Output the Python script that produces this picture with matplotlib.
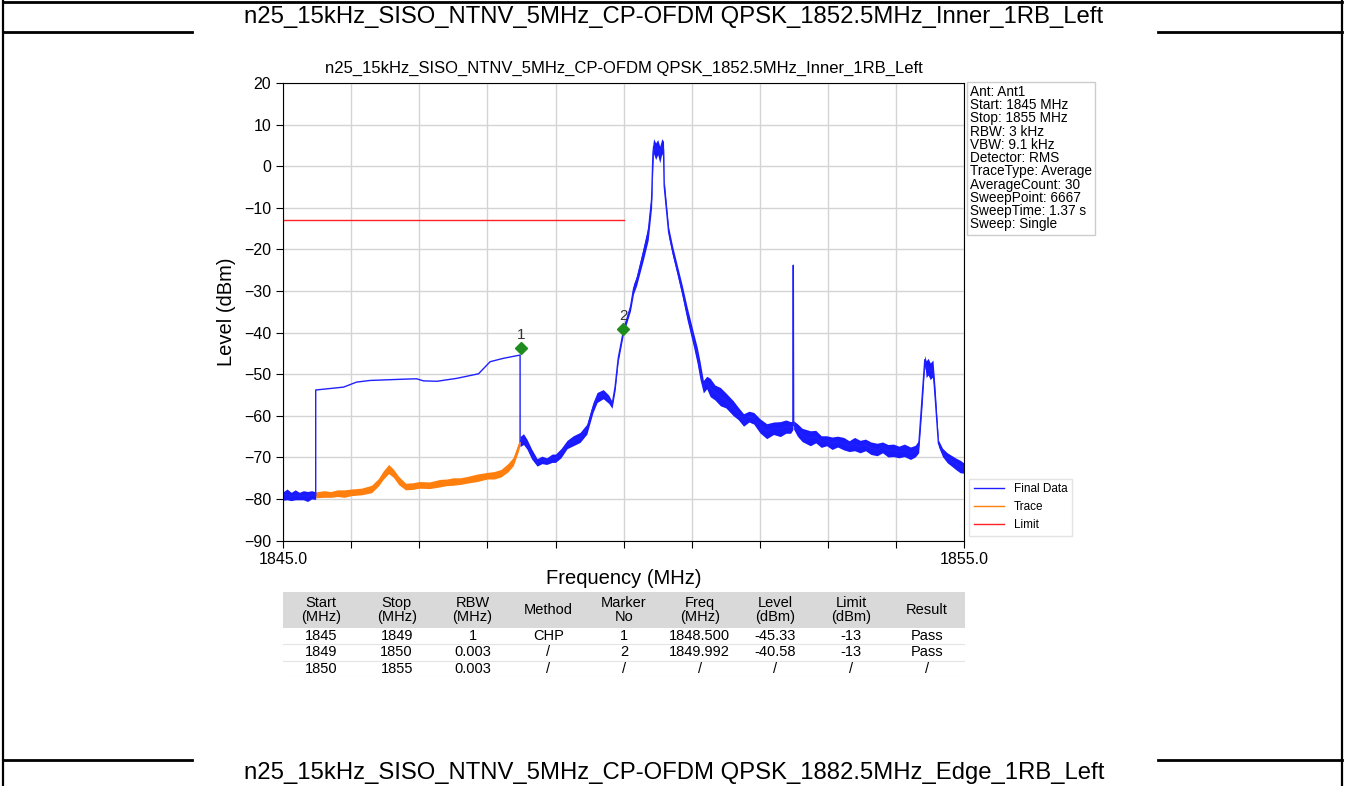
import numpy as np
import matplotlib
matplotlib.use("Agg")
import matplotlib.pyplot as plt
from matplotlib.patches import Rectangle

plt.rcParams['font.family'] = ['Liberation Sans', 'DejaVu Sans']

page_title = "n25_15kHz_SISO_NTNV_5MHz_CP-OFDM QPSK_1852.5MHz_Inner_1RB_Left"
next_title = "n25_15kHz_SISO_NTNV_5MHz_CP-OFDM QPSK_1882.5MHz_Edge_1RB_Left"

# Final Data: frequency (MHz), level (dBm), noise half-width (dB)
final_freq = [1845.00, 1845.06, 1845.12, 1845.18, 1845.24, 1845.30, 1845.36, 1845.42, 1845.48,
              1845.48, 1845.89, 1846.08, 1846.28, 1846.77, 1846.96, 1847.06, 1847.26, 1847.55,
              1847.87, 1848.04, 1848.23, 1848.48,
              1848.48, 1848.53, 1848.58, 1848.65, 1848.73, 1848.80, 1848.87, 1848.95, 1849.00,
              1849.08, 1849.17, 1849.26, 1849.36, 1849.46, 1849.55, 1849.61, 1849.70, 1849.78,
              1849.83, 1849.875, 1849.92, 1850.00, 1850.10, 1850.145, 1850.19, 1850.29, 1850.36,
              1850.41, 1850.43, 1850.44, 1850.47, 1850.50, 1850.53, 1850.56, 1850.585, 1850.595,
              1850.66, 1850.72, 1850.78, 1850.86, 1850.93, 1851.025, 1851.08, 1851.12, 1851.17,
              1851.22, 1851.27, 1851.34, 1851.42, 1851.50, 1851.61, 1851.68, 1851.76, 1851.84,
              1851.91, 1852.00, 1852.10, 1852.20, 1852.30, 1852.38, 1852.45, 1852.485, 1852.49,
              1852.495, 1852.55, 1852.62, 1852.74, 1852.82, 1852.90, 1852.98, 1853.06, 1853.14,
              1853.23, 1853.31, 1853.39, 1853.47, 1853.55, 1853.63, 1853.72, 1853.80, 1853.88,
              1853.96, 1854.04, 1854.12, 1854.21, 1854.28, 1854.33, 1854.38, 1854.42, 1854.44,
              1854.47, 1854.50, 1854.54, 1854.57, 1854.62, 1854.68, 1854.75, 1854.82, 1854.88,
              1854.94, 1855.00]
final_level = [-79.3, -78.9, -79.4, -79.0, -79.3, -79.1, -79.4, -79.0, -79.2,
               -53.8, -53.1, -51.9, -51.5, -51.2, -51.1, -51.6, -51.7, -51.0,
               -49.9, -47.0, -46.2, -45.4,
               -66.2, -65.6, -66.8, -69.2, -71.2, -70.6, -70.9, -70.2, -70.2,
               -69.0, -66.9, -66.0, -65.2, -63.2, -58.0, -55.6, -54.8, -56.0,
               -57.4, -53.0, -46.2, -39.3, -33.9, -29.5, -27.5, -20.9, -16.0,
               -8.0, 3.0, 4.8, 3.6, 4.6, 2.8, 4.8, 4.0, -4.7,
               -15.8, -20.5, -24.5, -30.0, -35.3, -41.7, -45.5, -49.0, -53.0,
               -52.0, -53.2, -54.4, -55.4, -56.3, -58.2, -59.4, -61.0, -60.2,
               -60.6, -62.4, -63.7, -63.0, -63.2, -62.6, -62.8, -62.3, -23.8,
               -62.2, -63.4, -64.6, -65.4, -65.0, -66.2, -66.0, -66.6, -66.2,
               -66.7, -67.3, -66.8, -67.4, -67.0, -67.8, -68.1, -67.6, -68.4,
               -68.3, -68.7, -68.3, -69.0, -68.5, -67.4, -55.8, -46.5, -48.8,
               -48.2, -49.3, -48.6, -55.0, -66.6, -68.8, -70.1, -70.9, -71.6,
               -72.2, -72.6]
final_spread = [1.0, 1.3, 1.0, 1.2, 0.9, 1.1, 1.2, 1.0, 0.9,
                0, 0, 0, 0, 0, 0, 0, 0, 0,
                0, 0, 0, 0,
                1.2, 1.3, 1.2, 1.2, 0.9, 0.9, 0.8, 1.0, 1.0,
                1.1, 1.0, 1.2, 1.2, 1.2, 1.2, 1.2, 1.1, 1.0,
                0.8, 0.9, 0.8, 0.8, 0.9, 1.2, 1.2, 1.6, 1.8,
                2.0, 2.5, 1.8, 2.0, 1.8, 2.0, 1.8, 2.0, 1.5,
                1.2, 1.2, 1.2, 1.4, 1.6, 1.7, 2.0, 2.2, 1.5,
                1.5, 2.2, 1.8, 2.2, 1.8, 1.8, 1.5, 1.5, 1.3,
                1.4, 1.7, 1.8, 1.5, 1.8, 1.6, 1.4, 1.0, 0,
                1.0, 1.5, 1.6, 1.8, 1.5, 1.4, 1.2, 1.5, 1.3,
                1.5, 1.3, 1.6, 1.5, 1.4, 1.5, 1.5, 1.3, 1.5,
                1.5, 1.4, 1.5, 1.5, 1.4, 1.5, 2.0, 1.0, 2.0,
                2.0, 2.0, 2.0, 2.0, 0.8, 1.0, 1.2, 1.3, 1.4,
                1.5, 1.2]

# Trace (orange)
trace_freq = [1845.48, 1845.60, 1845.70, 1845.80, 1845.90, 1846.00, 1846.15, 1846.30, 1846.40,
              1846.47, 1846.55, 1846.62, 1846.70, 1846.80, 1846.90, 1847.00, 1847.15, 1847.30,
              1847.40, 1847.50, 1847.60, 1847.70, 1847.85, 1848.00, 1848.10, 1848.20, 1848.30,
              1848.38, 1848.45, 1848.48]
trace_level = [-79.0, -78.8, -78.9, -78.6, -78.7, -78.4, -78.2, -77.6, -76.0,
               -74.3, -72.8, -73.8, -75.6, -77.0, -76.9, -76.6, -76.7, -76.2,
               -76.0, -75.8, -75.7, -75.4, -74.9, -74.4, -74.3, -73.8, -72.5,
               -71.0, -67.8, -66.3]
trace_spread = [0.7, 0.8, 0.7, 0.8, 0.9, 0.8, 0.8, 0.9, 0.9,
                1.0, 1.1, 1.0, 1.0, 0.8, 0.8, 0.8, 0.8, 0.9,
                0.8, 0.9, 0.8, 0.8, 0.9, 0.8, 0.9, 0.9, 1.0,
                1.0, 1.0, 0.8]

limit_freq = [1845.0, 1850.0]
limit_level = [-13, -13]

marker_no = ["1", "2"]
marker_freq = [1848.5, 1849.992]
marker_level = [-43.6, -39.1]

info_lines = ["Ant: Ant1", "Start: 1845 MHz", "Stop: 1855 MHz", "RBW: 3 kHz", "VBW: 9.1 kHz",
              "Detector: RMS", "TraceType: Average", "AverageCount: 30", "SweepPoint: 6667",
              "SweepTime: 1.37 s", "Sweep: Single"]

table_header = ["Start\n(MHz)", "Stop\n(MHz)", "RBW\n(MHz)", "Method", "Marker\nNo",
                "Freq\n(MHz)", "Level\n(dBm)", "Limit\n(dBm)", "Result"]
table_rows = [["1845", "1849", "1", "CHP", "1", "1848.500", "-45.33", "-13", "Pass"],
              ["1849", "1850", "0.003", "/", "2", "1849.992", "-40.58", "-13", "Pass"],
              ["1850", "1855", "0.003", "/", "/", "/", "/", "/", "/"]]

W, H = 1345, 786
fig = plt.figure(figsize=(W / 100, H / 100), dpi=100)

# page frame of the document table
def hline(y, x0, x1, lw=2.0):
    fig.add_artist(plt.Line2D([x0 / W, x1 / W], [1 - y / H, 1 - y / H], color='black', lw=lw))

def vline(x, y0, y1, lw=1.6):
    fig.add_artist(plt.Line2D([x / W, x / W], [1 - y0 / H, 1 - y1 / H], color='black', lw=lw))

hline(2, 3, 1342)
hline(32, 3, 192)
hline(32, 1158, 1342)
hline(760, 3, 192)
hline(760, 1158, 1342)
vline(3, 0, H)
vline(1342, 0, H)
fig.text(674 / W, 1 - 17 / H, page_title, ha='center', va='center', fontsize=17.2)
fig.text(674 / W, 1 - 773 / H, next_title, ha='center', va='center', fontsize=17.2)

# spectrum axes
ax = fig.add_axes([283 / W, 1 - 540.6 / H, (964.3 - 283) / W, (540.6 - 83) / H])
ax.fill_between(trace_freq, np.array(trace_level) - np.array(trace_spread),
                np.array(trace_level) + np.array(trace_spread), color='#ff7f0e', lw=0)
ax.plot(trace_freq, trace_level, color='#ff7f0e', lw=1.0, label='Trace')
ax.fill_between(final_freq, np.array(final_level) - np.array(final_spread),
                np.array(final_level) + np.array(final_spread), color='#1a1aff', lw=0)
ax.plot(final_freq, final_level, color='#2020ff', lw=1.0, label='Final Data')
ax.plot(limit_freq, limit_level, color='#ff2020', lw=1.0, label='Limit')
ax.plot(marker_freq, marker_level, 'D', color='#1e8c1e', ms=6, zorder=5)
for no, f, lv in zip(marker_no, marker_freq, marker_level):
    ax.text(f, lv + 1.4, no, ha='center', va='bottom', fontsize=11, color='#333333')

ax.set_xlim(1845, 1855)
ax.set_ylim(-90, 20)
xt = np.arange(1845, 1856, 1)
ax.set_xticks(xt)
ax.set_xticklabels(["1845.0"] + [""] * 9 + ["1855.0"])
ax.set_yticks(np.arange(-90, 21, 10))
ax.tick_params(labelsize=11.5, length=5, direction='out')
ax.grid(True, color='#d4d4d4', lw=1.0)
ax.set_axisbelow(True)
ax.set_xlabel("Frequency (MHz)", fontsize=14.5, labelpad=1)
ax.set_ylabel("Level (dBm)", fontsize=14.5, labelpad=6)
ax.set_title(page_title, fontsize=12, pad=7)

handles, labels = ax.get_legend_handles_labels()
order = [labels.index('Final Data'), labels.index('Trace'), labels.index('Limit')]
leg = ax.legend([handles[i] for i in order], [labels[i] for i in order],
                loc='lower left', bbox_to_anchor=(1.0, 0.0), fontsize=8.5,
                frameon=True, fancybox=False, edgecolor='#dddddd', handlelength=2.6,
                borderaxespad=0.4)

fig.text(970 / W, 1 - 85 / H, "\n".join(info_lines), ha='left', va='top', fontsize=9.8,
         linespacing=0.93,
         bbox=dict(boxstyle='square,pad=0.25', fc='white', ec='#cccccc', lw=1))

# result table under the chart
tx0, tx1, ty0, ty1 = 283, 965, 592, 677
tax = fig.add_axes([tx0 / W, 1 - ty1 / H, (tx1 - tx0) / W, (ty1 - ty0) / H])
tax.set_xlim(0, len(table_header))
tax.set_ylim(ty1, ty0)
tax.axis('off')
head_h = 36
row_h = (ty1 - ty0 - head_h) / len(table_rows)
tax.add_patch(Rectangle((0, ty0), len(table_header), head_h, fc='#d9d9d9', ec='none'))
for i, h in enumerate(table_header):
    tax.text(i + 0.5, ty0 + head_h / 2, h, ha='center', va='center', fontsize=10.5, linespacing=1.0)
for r, row in enumerate(table_rows):
    yc = ty0 + head_h + row_h * (r + 0.5)
    tax.axhline(ty0 + head_h + row_h * (r + 1), color='#e4e4e4', lw=0.8)
    for i, v in enumerate(row):
        tax.text(i + 0.5, yc, v, ha='center', va='center', fontsize=10.5)

fig.savefig("out.png", dpi=100)
